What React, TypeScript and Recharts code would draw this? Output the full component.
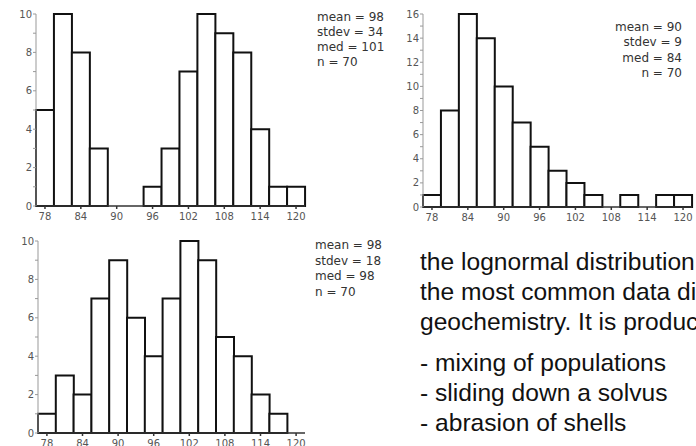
import { BarChart, Bar, XAxis, YAxis } from "recharts";

// bin centres (width 3)
const bins = ["78", "81", "84", "87", "90", "93", "96", "99", "102", "105", "108", "111", "114", "117", "120"];

const bimodalWide = [5, 10, 8, 3, 0, 0, 1, 3, 7, 10, 9, 8, 4, 1, 1];
const lognormal = [1, 8, 16, 14, 10, 7, 5, 3, 2, 1, 0, 1, 0, 1, 1];
const bimodalNarrow = [1, 3, 2, 7, 9, 6, 4, 7, 10, 9, 5, 4, 2, 1, 0];

const statsWide = ["mean = 98", "stdev = 34", "med = 101", "n = 70"];
const statsLog = ["mean = 90", "stdev = 9", "med = 84", "n = 70"];
const statsNarrow = ["mean = 98", "stdev = 18", "med = 98", "n = 70"];

const textLines = [
  "the lognormal distribution is",
  "the most common data distribution in",
  "geochemistry. It is produced by:",
];
const bullets = ["- mixing of populations", "- sliding down a solvus", "- abrasion of shells"];

const TICK_FONT = { fill: "#555", fontSize: 10, fontFamily: "DejaVu Sans" };

type HistProps = {
  counts: number[];
  yMax: number;
  width: number;
  height: number;
  margin: { top: number; right: number; left: number; bottom: number };
  yWidth: number;
  xHeight: number;
};

function Histogram({ counts, yMax, width, height, margin, yWidth, xHeight }: HistProps) {
  const rows = bins.map((b, i) => ({ bin: b, count: counts[i] }));
  const yTicks = Array.from({ length: yMax + 1 }, (_, i) => i);
  return (
    <BarChart width={width} height={height} data={rows} margin={margin} barCategoryGap={0}>
      <XAxis dataKey="bin" interval={1} height={xHeight} stroke="#333" strokeWidth={1.5}
             tickSize={3} tickMargin={4} tick={TICK_FONT} />
      <XAxis xAxisId="top" dataKey="bin" orientation="top" height={0} tick={false}
             tickLine={false} stroke="#999" />
      <YAxis domain={[0, yMax]} ticks={yTicks} width={yWidth} stroke="#999" tickSize={3}
             tickMargin={1} tick={TICK_FONT} interval={0}
             tickFormatter={(v: number) => (v % 2 === 0 ? String(v) : "")} />
      <YAxis yAxisId="right" orientation="right" width={0} tick={false} tickLine={false}
             stroke="#999" domain={[0, yMax]} />
      <Bar dataKey="count" fill="#fff" stroke="#111" strokeWidth={2} isAnimationActive={false} />
    </BarChart>
  );
}

function Stats({ lines, left, top, right, lh = 15 }: { lines: string[]; left?: number; top: number; right?: number; lh?: number }) {
  return (
    <div style={{
      position: "absolute", top, left, right, fontFamily: "DejaVu Sans", fontSize: 12,
      lineHeight: `${lh}px`, color: "#333", textAlign: right !== undefined ? "right" : "left",
      whiteSpace: "nowrap",
    }}>
      {lines.map((l, i) => <div key={i}>{l}</div>)}
    </div>
  );
}

export default function App() {
  return (
    <div style={{ position: "absolute", left: 0, top: 0, width: 696, height: 446, overflow: "hidden", background: "#fff" }}>
      <div style={{ position: "absolute", left: 0, top: 0 }}>
        <Histogram counts={bimodalWide} yMax={10} width={310} height={225}
                   margin={{ top: 14, right: 5, left: 0, bottom: 4 }} yWidth={36} xHeight={15} />
      </div>
      <Stats lines={statsWide} left={317} top={10} />

      <div style={{ position: "absolute", left: 385, top: 0 }}>
        <Histogram counts={lognormal} yMax={16} width={311} height={225}
                   margin={{ top: 14, right: 4, left: 0, bottom: 3 }} yWidth={38} xHeight={15} />
      </div>
      <Stats lines={statsLog} right={696 - 682} top={20} lh={15.3} />

      <div style={{ position: "absolute", left: 0, top: 225 }}>
        <Histogram counts={bimodalNarrow} yMax={10} width={310} height={221}
                   margin={{ top: 16, right: 5, left: 0, bottom: 0 }} yWidth={38} xHeight={13} />
      </div>
      <Stats lines={statsNarrow} left={315} top={238} lh={15.5} />

      <div style={{
        position: "absolute", left: 420, top: 247, fontFamily: "Helvetica, 'Liberation Sans', Arial, sans-serif",
        fontSize: 24.6, lineHeight: "30px", color: "#111", whiteSpace: "nowrap",
      }}>
        {textLines.map((l, i) => <div key={i}>{l}</div>)}
        <div style={{ height: 11 }} />
        {bullets.map((l, i) => <div key={i}>{l}</div>)}
      </div>
    </div>
  );
}
